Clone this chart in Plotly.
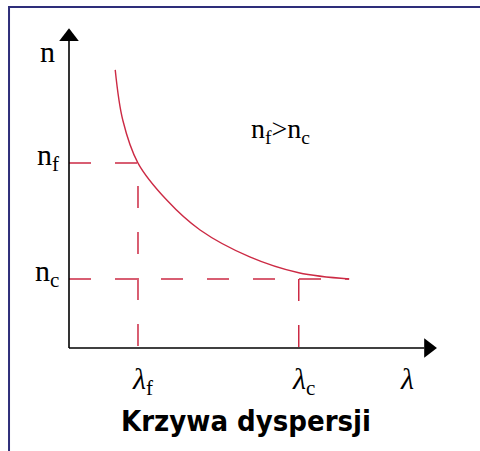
import plotly.graph_objects as go

# dane krzywej dyspersji (jednostki umowne)
wavelength = [0.67, 0.78, 1.0, 1.42, 1.9, 2.62, 3.33, 4.06]
index_n = [4.03, 3.3, 2.68, 2.14, 1.71, 1.32, 1.09, 1.0]

# punkty charakterystyczne
lambda_f, n_f = 1.0, 2.68
lambda_c, n_c = 3.33, 1.0
lambda_end = 4.06

# końce osi
x_axis_end = 5.35
y_axis_end = 4.65

RED = '#cc2a44'
BLACK = '#000000'
SERIF = 'Liberation Serif, Times New Roman, serif'

fig = go.Figure()

# krzywa
fig.add_trace(go.Scatter(
    x=wavelength, y=index_n, mode='lines',
    line=dict(color=RED, width=1.4, shape='spline', smoothing=1.0),
    hoverinfo='skip'
))

# linie pomocnicze
guide = dict(color=RED, width=1.5, dash='22px,24px')
fig.add_trace(go.Scatter(x=[0, lambda_f, lambda_f], y=[n_f, n_f, 0],
                         mode='lines', line=guide, hoverinfo='skip'))
fig.add_trace(go.Scatter(x=[0, lambda_end], y=[n_c, n_c],
                         mode='lines', line=guide, hoverinfo='skip'))
fig.add_trace(go.Scatter(x=[lambda_c, lambda_c], y=[n_c, 0],
                         mode='lines', line=guide, hoverinfo='skip'))

# osie ze strzałkami
fig.add_trace(go.Scatter(x=[0, x_axis_end - 0.2], y=[0, 0], mode='lines',
                         line=dict(color=BLACK, width=1.6), hoverinfo='skip'))
fig.add_trace(go.Scatter(x=[0, 0], y=[0, y_axis_end - 0.2], mode='lines',
                         line=dict(color=BLACK, width=1.6), hoverinfo='skip'))
fig.add_trace(go.Scatter(x=[x_axis_end - 0.14], y=[0], mode='markers',
                         marker=dict(symbol='triangle-right', size=17, color=BLACK),
                         hoverinfo='skip'))
fig.add_trace(go.Scatter(x=[0], y=[y_axis_end - 0.14], mode='markers',
                         marker=dict(symbol='triangle-up', size=17, color=BLACK),
                         hoverinfo='skip'))

annotations = [
    dict(x=0, y=y_axis_end - 0.36, text='n', xanchor='right', xshift=-12,
         font=dict(family=SERIF, size=30, color=BLACK)),
    dict(x=0, y=n_f, text='n<sub>f</sub>', xanchor='right', xshift=-8, yshift=6,
         font=dict(family=SERIF, size=30, color=BLACK)),
    dict(x=0, y=n_c, text='n<sub>c</sub>', xanchor='right', xshift=-8, yshift=6,
         font=dict(family=SERIF, size=30, color=BLACK)),
    dict(x=0.585, y=0.71, xref='paper', yref='paper', text='n<sub>f</sub>&gt;n<sub>c</sub>',
         font=dict(family=SERIF, size=28, color=BLACK)),
    dict(x=lambda_f, y=0, text='<i>λ</i><sub>f</sub>', yanchor='top', yshift=-12, xshift=5,
         font=dict(family=SERIF, size=30, color=BLACK)),
    dict(x=lambda_c, y=0, text='<i>λ</i><sub>c</sub>', yanchor='top', yshift=-12, xshift=5,
         font=dict(family=SERIF, size=30, color=BLACK)),
    dict(x=x_axis_end - 0.45, y=0, text='<i>λ</i>', yanchor='top', yshift=-12,
         font=dict(family=SERIF, size=30, color=BLACK)),
    dict(x=0.5125, y=0.0665, xref='paper', yref='paper', text='Krzywa dyspersji',
         font=dict(family='Liberation Sans Narrow, DejaVu Sans Condensed, sans-serif',
                   size=29, color=BLACK, weight='bold')),
]
for a in annotations:
    a.setdefault('xref', 'x')
    a.setdefault('yref', 'y')
    a.setdefault('xanchor', 'center')
    a.setdefault('yanchor', 'middle')
    a['showarrow'] = False

fig.update_layout(
    width=480, height=451,
    margin=dict(l=0, r=0, t=0, b=0),
    paper_bgcolor='white', plot_bgcolor='white',
    showlegend=False,
    xaxis=dict(range=[-1.0, 5.957], visible=False, fixedrange=True),
    yaxis=dict(range=[-1.493, 5.043], visible=False, fixedrange=True),
    annotations=annotations,
    shapes=[dict(type='rect', xref='paper', yref='paper',
                 x0=0.0188, x1=1.05, y0=-0.05, y1=0.9845,
                 line=dict(color='#2e2e7a', width=2))],
)

fig.write_html("out.html", config={'displayModeBar': False},
               post_script="document.body.style.margin = '0';")
